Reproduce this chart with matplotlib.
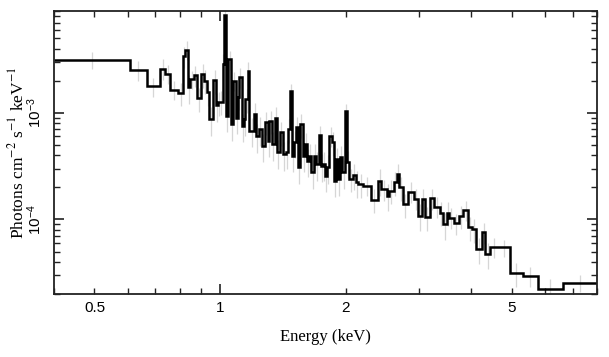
import numpy as np
import matplotlib
matplotlib.use("Agg")
import matplotlib.pyplot as plt
from matplotlib.ticker import FixedLocator, FuncFormatter, LogLocator, LogFormatterSciNotation, NullFormatter

# ---- data ----
edges = [0.40, 0.607, 0.668, 0.717, 0.739, 0.760, 0.793, 0.815, 0.825, 0.837,
         0.847, 0.864, 0.878, 0.901, 0.916, 0.929, 0.940, 0.963, 0.978, 0.986,
         1.000, 1.014, 1.022, 1.033, 1.047, 1.062, 1.073, 1.090, 1.103, 1.112,
         1.126, 1.139, 1.150, 1.165, 1.174, 1.205, 1.219, 1.239, 1.259, 1.280,
         1.300, 1.313, 1.331, 1.353, 1.372, 1.388, 1.414, 1.437, 1.454, 1.472,
         1.484, 1.502, 1.521, 1.539, 1.557, 1.576, 1.595, 1.614, 1.634, 1.654,
         1.680, 1.701, 1.721, 1.742, 1.763, 1.785, 1.806, 1.828, 1.850, 1.872,
         1.895, 1.918, 1.941, 1.964, 1.988, 2.012, 2.036, 2.086, 2.111, 2.145,
         2.197, 2.295, 2.393, 2.432, 2.505, 2.540, 2.607, 2.648, 2.686, 2.739,
         2.823, 2.910, 2.979, 3.04, 3.09, 3.18, 3.26, 3.36, 3.42, 3.49,
         3.54, 3.626, 3.739, 3.817, 3.937, 4.019, 4.099, 4.243, 4.324, 4.431,
         4.633, 4.945, 5.304, 5.772, 6.618, 8.0]

flux = [3.12e-3, 2.53e-3, 1.77e-3, 2.60e-3, 2.32e-3, 1.64e-3, 1.53e-3, 3.37e-3, 3.90e-3, 1.73e-3,
        2.07e-3, 2.25e-3, 1.37e-3, 2.30e-3, 2.00e-3, 1.55e-3, 8.7e-4, 2.02e-3, 1.18e-3, 1.25e-3,
        1.27e-3, 2.86e-3, 8.2e-3, 9.4e-4, 3.18e-3, 7.8e-4, 2.0e-3, 9.0e-4, 1.42e-3, 2.17e-3,
        7.55e-4, 8.7e-4, 1.34e-3, 2.48e-3, 6.8e-4, 9.7e-4, 6.0e-4, 7.0e-4, 4.9e-4, 8.2e-4,
        5.46e-4, 8.4e-4, 5.08e-4, 9.0e-4, 4.25e-4, 6.54e-4, 4.1e-4, 4.25e-4, 7.0e-4, 1.61e-3,
        3.95e-4, 5.27e-4, 7.29e-4, 3.07e-4, 7.8e-4, 3.95e-4, 5.08e-4, 3.55e-4, 3.95e-4, 2.76e-4,
        3.95e-4, 3.30e-4, 6.18e-4, 3.19e-4, 3.30e-4, 2.57e-4, 3.07e-4, 6.09e-4, 5.27e-4, 2.30e-4,
        3.68e-4, 2.39e-4, 3.81e-4, 2.76e-4, 1.04e-3, 3.42e-4, 2.39e-4, 2.61e-4, 2.22e-4, 2.13e-4,
        2.07e-4, 1.53e-4, 2.30e-4, 1.92e-4, 1.67e-4, 1.86e-4, 2.22e-4, 2.66e-4, 2.0e-4, 1.39e-4,
        1.82e-4, 1.57e-4, 1.08e-4, 1.55e-4, 1.05e-4, 1.58e-4, 1.32e-4, 1.16e-4, 9.0e-5, 1.16e-4,
        1.04e-4, 9.25e-5, 1.08e-4, 1.23e-4, 8.41e-5, 8.1e-5, 5.27e-5, 7.55e-5, 4.73e-5, 5.54e-5,
        5.46e-5, 3.12e-5, 2.96e-5, 2.25e-5, 2.56e-5]

rel_err = [0.18, 0.22, 0.2, 0.22, 0.2, 0.2, 0.25, 0.22, 0.2, 0.3, 0.2, 0.22, 0.25, 0.25, 0.25, 0.25,
           0.3, 0.25, 0.3, 0.25, 0.25, 0.25, 0.12, 0.3, 0.2, 0.3, 0.2, 0.3, 0.25, 0.22,
           0.3, 0.3, 0.25, 0.2, 0.3, 0.28, 0.3, 0.3, 0.3, 0.25, 0.3, 0.25, 0.3, 0.25, 0.3, 0.25, 0.3, 0.3, 0.25, 0.15,
           0.3, 0.28, 0.25, 0.3, 0.25, 0.3, 0.28, 0.3, 0.28, 0.3, 0.28, 0.3, 0.22, 0.3, 0.3, 0.3, 0.3, 0.22, 0.25, 0.3,
           0.28, 0.3, 0.28, 0.3, 0.15,
           0.28, 0.25, 0.28, 0.28, 0.25, 0.2, 0.25, 0.28, 0.22, 0.28, 0.25, 0.25, 0.25, 0.25, 0.25, 0.22, 0.22, 0.28,
           0.25, 0.25, 0.22, 0.22, 0.25, 0.28, 0.25,
           0.22, 0.22, 0.25, 0.22, 0.25, 0.25, 0.28, 0.22, 0.28, 0.22, 0.18, 0.25, 0.22, 0.22, 0.18]

x_major = [1]
x_minor = [0.4, 0.5, 0.6, 0.7, 0.8, 0.9, 2, 3, 4, 5, 6, 7, 8]
x_labeled = [0.5, 1, 2, 5]
xlim = (0.4, 8.0)
ylim = (2.0e-5, 9.0e-3)

# ---- styling ----
plt.rcParams['mathtext.fontset'] = 'custom'
plt.rcParams['mathtext.rm'] = 'Liberation Sans'
plt.rcParams['mathtext.it'] = 'Liberation Sans:italic'
plt.rcParams['mathtext.bf'] = 'Liberation Sans:bold'
plt.rcParams['font.family'] = ['Liberation Sans', 'DejaVu Sans']

fig = plt.figure(figsize=(6.09, 3.57), dpi=100)
ax = fig.add_axes([0.0887, 0.1765, 0.8916, 0.7927])

e = np.array(edges)
f = np.array(flux)
r = np.array(rel_err)
centers = np.sqrt(e[:-1] * e[1:])

ax.vlines(centers, f * (1 - r), f * (1 + r), color='#d6d6d6', lw=0.9, zorder=1)
ax.stairs(f, e, color='black', lw=1.8, zorder=2, baseline=None)

ax.set_xscale('log')
ax.set_yscale('log')
ax.set_xlim(*xlim)
ax.set_ylim(*ylim)

ax.xaxis.set_major_locator(FixedLocator(x_major))
ax.xaxis.set_minor_locator(FixedLocator(x_minor))
fmt = FuncFormatter(lambda v, p: (('%g' % v) if any(abs(v - t) < 1e-9 for t in x_labeled) else ''))
ax.xaxis.set_major_formatter(fmt)
ax.xaxis.set_minor_formatter(fmt)

ax.yaxis.set_major_locator(LogLocator(base=10))
ax.yaxis.set_minor_locator(LogLocator(base=10, subs=np.arange(2, 10)))
ax.yaxis.set_major_formatter(LogFormatterSciNotation())
ax.yaxis.set_minor_formatter(NullFormatter())

ax.tick_params(which='both', direction='in', top=True, right=True, colors='#222222',
               labelsize=11, labelcolor='black')
ax.tick_params(which='major', length=7, width=1.2)
ax.tick_params(which='minor', length=4, width=1.0)
ax.tick_params(axis='x', which='both', pad=5)
ax.tick_params(axis='y', which='both', pad=7, labelrotation=90)
for lab in ax.get_yticklabels():
    lab.set_va('center')

for s in ax.spines.values():
    s.set_linewidth(1.3)
    s.set_color('#222222')

ax.set_xlabel('Energy (keV)', fontfamily='Liberation Serif', fontsize=12, labelpad=10)
yl = ax.set_ylabel('Photons cm$^{-2}$ s$^{-1}$ keV$^{-1}$', fontfamily='Liberation Serif',
                   fontsize=12.5, labelpad=-1)
yl.set_math_fontfamily('stix')

fig.savefig('out.png', dpi=100)
